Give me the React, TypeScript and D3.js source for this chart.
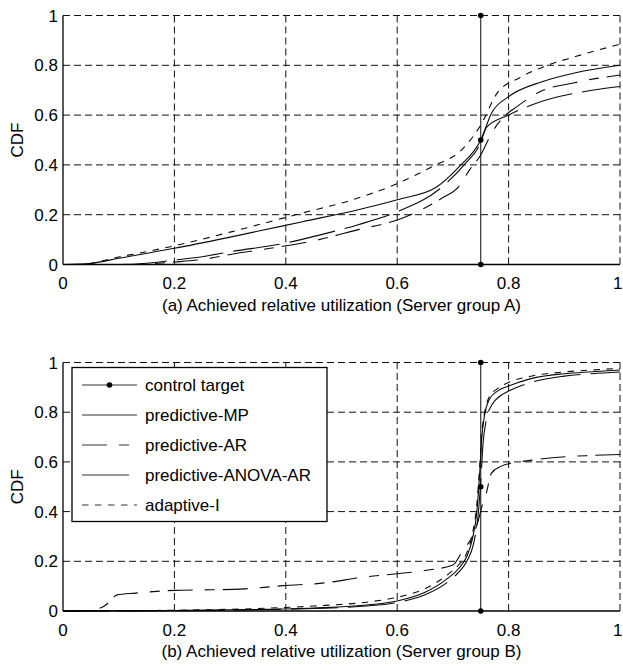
import React, { useEffect, useRef } from 'react';
import * as d3 from 'd3';

// ---- data (x = relative utilization, y = CDF) ----

// (a) Server group A
const aAdaptiveX = [0, 0.03, 0.1, 0.2, 0.3, 0.43, 0.52, 0.6, 0.66, 0.72, 0.75, 0.78, 0.82, 0.87, 0.92, 1.0];
const aAdaptiveY = [0, 0, 0.03, 0.075, 0.13, 0.207, 0.26, 0.325, 0.39, 0.47, 0.56, 0.69, 0.75, 0.8, 0.835, 0.885];

const aMpX = [0, 0.05, 0.1, 0.2, 0.3, 0.43, 0.53, 0.6, 0.67, 0.71, 0.75, 0.77, 0.8, 0.86, 0.92, 1.0];
const aMpY = [0, 0.005, 0.025, 0.065, 0.11, 0.172, 0.22, 0.26, 0.31, 0.39, 0.5, 0.61, 0.674, 0.734, 0.77, 0.8];

const aArX = [0, 0.12, 0.2, 0.25, 0.3, 0.4, 0.46, 0.53, 0.6, 0.68, 0.71, 0.73, 0.75, 0.77, 0.79, 0.815, 0.856, 0.916, 1.0];
const aArY = [0, 0, 0.01, 0.02, 0.04, 0.075, 0.1, 0.14, 0.179, 0.266, 0.312, 0.38, 0.44, 0.53, 0.59, 0.634, 0.694, 0.729, 0.761];

const aAnovaX = [0, 0.1, 0.15, 0.2, 0.25, 0.3, 0.4, 0.46, 0.53, 0.6, 0.68, 0.72, 0.75, 0.76, 0.8, 0.84, 0.95, 1.0];
const aAnovaY = [0, 0, 0.005, 0.018, 0.031, 0.051, 0.086, 0.118, 0.16, 0.212, 0.31, 0.4, 0.49, 0.55, 0.6, 0.64, 0.7, 0.715];

// (b) Server group B
const bAdaptiveX = [0, 0.2, 0.35, 0.45, 0.55, 0.6, 0.65, 0.69, 0.71, 0.725, 0.735, 0.743, 0.748, 0.752, 0.757, 0.765, 0.78, 0.8, 0.84, 0.9, 0.95, 1.0];
const bAdaptiveY = [0, 0.003, 0.01, 0.02, 0.037, 0.055, 0.09, 0.145, 0.185, 0.235, 0.31, 0.43, 0.58, 0.72, 0.8, 0.86, 0.895, 0.92, 0.945, 0.962, 0.97, 0.976];

const bMpX = [0, 0.2, 0.35, 0.45, 0.55, 0.6, 0.65, 0.69, 0.71, 0.725, 0.735, 0.743, 0.748, 0.752, 0.757, 0.765, 0.78, 0.8, 0.84, 0.9, 0.95, 1.0];
const bMpY = [0, 0.002, 0.006, 0.012, 0.025, 0.04, 0.075, 0.13, 0.17, 0.22, 0.29, 0.4, 0.55, 0.7, 0.79, 0.85, 0.885, 0.905, 0.935, 0.955, 0.963, 0.97];

const bArX = [0, 0.036, 0.06, 0.072, 0.085, 0.096, 0.13, 0.162, 0.2, 0.25, 0.306, 0.35, 0.395, 0.461, 0.545, 0.6, 0.65, 0.7, 0.718, 0.735, 0.745, 0.752, 0.76, 0.769, 0.785, 0.82, 0.844, 0.904, 0.95, 1.0];
const bArY = [0, 0, 0.008, 0.017, 0.04, 0.064, 0.072, 0.078, 0.083, 0.085, 0.087, 0.093, 0.102, 0.111, 0.138, 0.15, 0.163, 0.185, 0.245, 0.3, 0.36, 0.42, 0.474, 0.554, 0.581, 0.6, 0.608, 0.621, 0.626, 0.63];

const bAnovaX = [0, 0.2, 0.35, 0.45, 0.55, 0.6, 0.65, 0.69, 0.71, 0.725, 0.737, 0.745, 0.75, 0.754, 0.76, 0.77, 0.785, 0.8, 0.84, 0.9, 0.95, 1.0];
const bAnovaY = [0, 0.001, 0.005, 0.01, 0.021, 0.034, 0.065, 0.115, 0.155, 0.2, 0.27, 0.38, 0.52, 0.67, 0.77, 0.83, 0.865, 0.885, 0.92, 0.945, 0.955, 0.962];

// control target
const targetX = 0.75;
const targetY = [0, 0.5, 1];

const seriesNames = ['control target', 'predictive-MP', 'predictive-AR', 'predictive-ANOVA-AR', 'adaptive-I'];
const tickValues = [0, 0.2, 0.4, 0.6, 0.8, 1];

const captions = [
  '(a) Achieved relative utilization (Server group A)',
  '(b) Achieved relative utilization (Server group B)',
];

const WIDTH = 623;
const HEIGHT = 664;
const FONT = '"Liberation Sans", Arial, Helvetica, sans-serif';
const FS = 17;
const INK = '#0a0a0a';

// dash styles per series name
const dashes: Record<string, string | null> = {
  'predictive-MP': null,
  'predictive-AR': '25,12,10,8',
  'predictive-ANOVA-AR': '47,10',
  'adaptive-I': '6.5,6.5',
};

interface Curve { name: string; xs: number[]; ys: number[] }

const panelA: Curve[] = [
  { name: 'predictive-MP', xs: aMpX, ys: aMpY },
  { name: 'predictive-AR', xs: aArX, ys: aArY },
  { name: 'predictive-ANOVA-AR', xs: aAnovaX, ys: aAnovaY },
  { name: 'adaptive-I', xs: aAdaptiveX, ys: aAdaptiveY },
];

const panelB: Curve[] = [
  { name: 'predictive-MP', xs: bMpX, ys: bMpY },
  { name: 'predictive-AR', xs: bArX, ys: bArY },
  { name: 'predictive-ANOVA-AR', xs: bAnovaX, ys: bAnovaY },
  { name: 'adaptive-I', xs: bAdaptiveX, ys: bAdaptiveY },
];

const drawPanel = (
  svg: d3.Selection<SVGSVGElement, unknown, null, undefined>,
  curves: Curve[],
  box: { left: number; right: number; top: number; bottom: number },
  caption: string,
  withLegend: boolean
) => {
  const x = d3.scaleLinear().domain([0, 1]).range([box.left, box.right]);
  const y = d3.scaleLinear().domain([0, 1]).range([box.bottom, box.top]);
  const g = svg.append('g');

  // grid
  tickValues.filter(t => t > 0).forEach(t => {
    g.append('line')
      .attr('x1', x(t)).attr('x2', x(t))
      .attr('y1', y(0)).attr('y2', y(1))
      .attr('stroke', '#111').attr('stroke-width', 1)
      .attr('stroke-dasharray', '7,4');
    g.append('line')
      .attr('x1', x(0)).attr('x2', x(1))
      .attr('y1', y(t)).attr('y2', y(t))
      .attr('stroke', '#111').attr('stroke-width', 1)
      .attr('stroke-dasharray', '7,4');
  });

  // curves
  const line = d3.line<[number, number]>()
    .x(d => x(d[0]))
    .y(d => y(d[1]))
    .curve(d3.curveMonotoneX);

  curves.forEach(c => {
    const pts = c.xs.map((v, i) => [v, c.ys[i]] as [number, number]);
    const p = g.append('path')
      .attr('d', line(pts))
      .attr('fill', 'none')
      .attr('stroke', INK)
      .attr('stroke-width', 1.1);
    if (dashes[c.name]) p.attr('stroke-dasharray', dashes[c.name] as string);
  });

  // control target
  g.append('line')
    .attr('x1', x(targetX)).attr('x2', x(targetX))
    .attr('y1', y(0)).attr('y2', y(1))
    .attr('stroke', INK).attr('stroke-width', 1);
  targetY.forEach(v => {
    g.append('circle')
      .attr('cx', x(targetX)).attr('cy', y(v))
      .attr('r', 2.8).attr('fill', '#000');
  });

  // axes (box off: only left + bottom)
  g.append('line')
    .attr('x1', x(0)).attr('x2', x(0)).attr('y1', y(0)).attr('y2', y(1))
    .attr('stroke', '#000').attr('stroke-width', 1.3);
  g.append('line')
    .attr('x1', x(0)).attr('x2', x(1)).attr('y1', y(0)).attr('y2', y(0))
    .attr('stroke', '#000').attr('stroke-width', 1.3);

  const fmt = d3.format('~g');
  tickValues.forEach(t => {
    const label = fmt(t);
    // keep the last label inside the page
    const half = label.length * FS * 0.28;
    g.append('text')
      .attr('x', Math.min(x(t), WIDTH - half - 0.5)).attr('y', y(0) + 24.5)
      .attr('text-anchor', 'middle')
      .attr('font-family', FONT).attr('font-size', FS)
      .attr('fill', '#000')
      .text(label);
    g.append('text')
      .attr('x', x(0) - 5).attr('y', y(t) + 6)
      .attr('text-anchor', 'end')
      .attr('font-family', FONT).attr('font-size', FS)
      .attr('fill', '#000')
      .text(label);
  });

  g.append('text')
    .attr('transform', `translate(23,${(y(0) + y(1)) / 2}) rotate(-90)`)
    .attr('text-anchor', 'middle')
    .attr('font-family', FONT).attr('font-size', FS)
    .text('CDF');

  g.append('text')
    .attr('x', (x(0) + x(1)) / 2).attr('y', y(0) + 46)
    .attr('text-anchor', 'middle')
    .attr('font-family', FONT).attr('font-size', FS)
    .text(caption);

  if (withLegend) {
    const lx = box.left + 9;
    const ly = box.top + 5;
    const lg = g.append('g').attr('transform', `translate(${lx},${ly})`);
    lg.append('rect')
      .attr('width', 255).attr('height', 154)
      .attr('fill', '#fff').attr('stroke', '#000').attr('stroke-width', 1.3);
    seriesNames.forEach((name, i) => {
      const ry = 17.5 + i * 30;
      const l = lg.append('line')
        .attr('x1', 10).attr('x2', 65).attr('y1', ry).attr('y2', ry)
        .attr('stroke', '#333').attr('stroke-width', 1);
      if (dashes[name]) l.attr('stroke-dasharray', dashes[name] as string);
      if (name === 'control target') {
        lg.append('circle').attr('cx', 37.5).attr('cy', ry).attr('r', 2.8).attr('fill', '#000');
      }
      lg.append('text')
        .attr('x', 73).attr('y', ry + 6)
        .attr('font-family', FONT).attr('font-size', FS)
        .text(name);
    });
  }
};

const App: React.FC = () => {
  const svgRef = useRef<SVGSVGElement>(null);

  useEffect(() => {
    if (!svgRef.current) return;
    const svg = d3.select(svgRef.current);
    svg.selectAll('*').remove();
    svg.append('rect').attr('width', WIDTH).attr('height', HEIGHT).attr('fill', '#fff');

    drawPanel(svg, panelA, { left: 63, right: 620, top: 15.5, bottom: 264.5 }, captions[0], false);
    drawPanel(svg, panelB, { left: 63, right: 620, top: 362.5, bottom: 611 }, captions[1], true);
  }, []);

  return (
    <div style={{ position: 'absolute', left: 0, top: 0 }}>
      <svg ref={svgRef} width={WIDTH} height={HEIGHT} style={{ display: 'block' }} />
    </div>
  );
};

export default App;
